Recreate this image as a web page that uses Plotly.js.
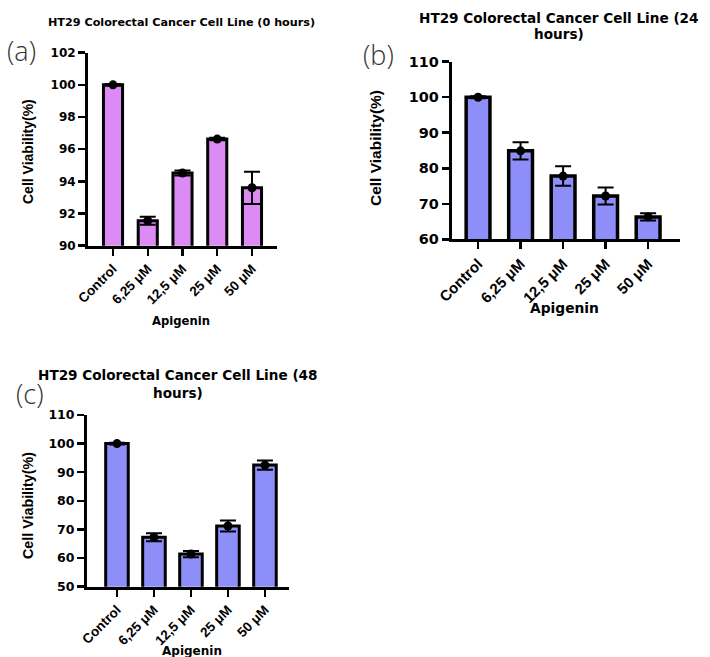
<!DOCTYPE html>
<html><head><meta charset="utf-8">
<script src="https://cdn.plot.ly/plotly-3.0.1.min.js"></script>
<style>html,body{margin:0;padding:0;background:#fff}#chart{width:710px;height:657px}</style>
</head><body><div id="chart"></div>
<script>
const categories = ['Control', '6,25 μM', '12,5 μM', '25 μM', '50 μM'];
const viability0h = [100, 91.55, 94.52, 96.63, 93.6];
const error0h = [0.05, 0.25, 0.15, 0.08, 1.0];
const viability24h = [100, 84.9, 77.8, 72.2, 66.3];
const error24h = [0.3, 2.4, 2.75, 2.4, 1.0];
const viability48h = [100, 67.3, 61.4, 71.2, 92.5];
const error48h = [0.3, 1.4, 1.1, 1.9, 1.6];

const W = 710, H = 657;
const px = v => v / W, py = v => 1 - v / H;
const FONT = 'DejaVu Sans, Liberation Sans, Arial, sans-serif';
const FONT2 = 'Liberation Sans, Arial, Helvetica, sans-serif';

function panel(vals, errs, color, xa, ya, width, lw) {
  return [
    {type: 'bar', x: categories, y: vals, xaxis: xa, yaxis: ya, width: width,
     marker: {color: color, line: {color: '#000', width: lw}},
     error_y: {type: 'data', array: errs, visible: true, color: '#000', thickness: 2, width: 8},
     hoverinfo: 'skip', showlegend: false},
    {type: 'scatter', mode: 'markers', x: categories, y: vals, xaxis: xa, yaxis: ya,
     marker: {color: '#000', size: 9}, hoverinfo: 'skip', showlegend: false, cliponaxis: false}
  ];
}

const data = [
  ...panel(viability0h, error0h, '#DB8BF3', 'x', 'y', 0.55, 3),
  ...panel(viability24h, error24h, '#8E8EF8', 'x2', 'y2', 0.56, 3.5),
  ...panel(viability48h, error48h, '#8E8EF8', 'x3', 'y3', 0.61, 3)
];

function xax(dom, range, anchor, fs) {
  return {domain: dom, range: range, type: 'category', anchor: anchor,
    showline: true, linewidth: 3, linecolor: '#000', showgrid: false, zeroline: false,
    ticks: 'outside', ticklen: 7, tickwidth: 2.5, tickcolor: '#000', tickangle: -45,
    tickfont: {family: FONT2, size: fs, color: '#000', weight: 'bold'}, fixedrange: true};
}
function yax(dom, range, dtick, anchor, fs) {
  return {domain: dom, range: range, dtick: dtick, anchor: anchor,
    showline: true, linewidth: 3, linecolor: '#000', showgrid: false, zeroline: false,
    ticks: 'outside', ticklen: 7, tickwidth: 2.5, tickcolor: '#000',
    tickfont: {family: FONT, size: fs, color: '#000', weight: 'bold'}, fixedrange: true};
}

function txt(text, x, y, size, opts, fam) {
  return Object.assign({text: text, xref: 'paper', yref: 'paper', x: px(x), y: py(y),
    xanchor: 'center', yanchor: 'middle', showarrow: false,
    font: {family: fam || FONT, size: size, color: '#000', weight: 'bold'}}, opts || {});
}
const labelFont = {family: 'Open Sans, DejaVu Sans, sans-serif', size: 27, color: '#333', weight: 300};

const layout = {
  width: W, height: H, margin: {l: 0, r: 0, t: 0, b: 0},
  paper_bgcolor: '#fff', plot_bgcolor: '#fff', showlegend: false,
  xaxis: xax([px(88), px(277)], [-0.72, 4.72], 'y', 13.5),
  yaxis: yax([py(245.7), py(52.7)], [90, 102], 2, 'x', 12),
  xaxis2: xax([px(451.7), px(680)], [-0.62, 4.75], 'y2', 15),
  yaxis2: yax([py(239.3), py(61.7)], [60, 110], 10, 'x2', 14.4),
  xaxis3: xax([px(87), px(289)], [-0.81, 4.65], 'y3', 13.5),
  yaxis3: yax([py(586.7), py(415)], [50, 110], 10, 'x3', 12.5),
  annotations: [
    txt('HT29 Colorectal Cancer Cell Line (0 hours)', 181, 23, 11.2),
    txt('HT29 Colorectal Cancer Cell Line (24', 559, 18, 13.6),
    txt('hours)', 559, 34, 13.6),
    txt('HT29 Colorectal Cancer Cell Line (48', 177.5, 375, 13.6),
    txt('hours)', 177.5, 393, 13.6),
    txt('(a)', 21, 51, 27, {font: labelFont}),
    txt('(b)', 379, 54, 27, {font: labelFont}),
    txt('(c)', 30, 393, 27, {font: labelFont}),
    txt('Cell Viability(%)', 28, 152, 14, {textangle: -90}, FONT2),
    txt('Cell Viability(%)', 375, 148, 15.5, {textangle: -90}, FONT2),
    txt('Cell Viability(%)', 28, 506, 14.3, {textangle: -90}, FONT2),
    txt('Apigenin', 181, 321, 11.6),
    txt('Apigenin', 564, 308, 13.8),
    txt('Apigenin', 192, 651, 12)
  ]
};

Plotly.newPlot('chart', data, layout, {staticPlot: true, displayModeBar: false});
</script></body></html>
